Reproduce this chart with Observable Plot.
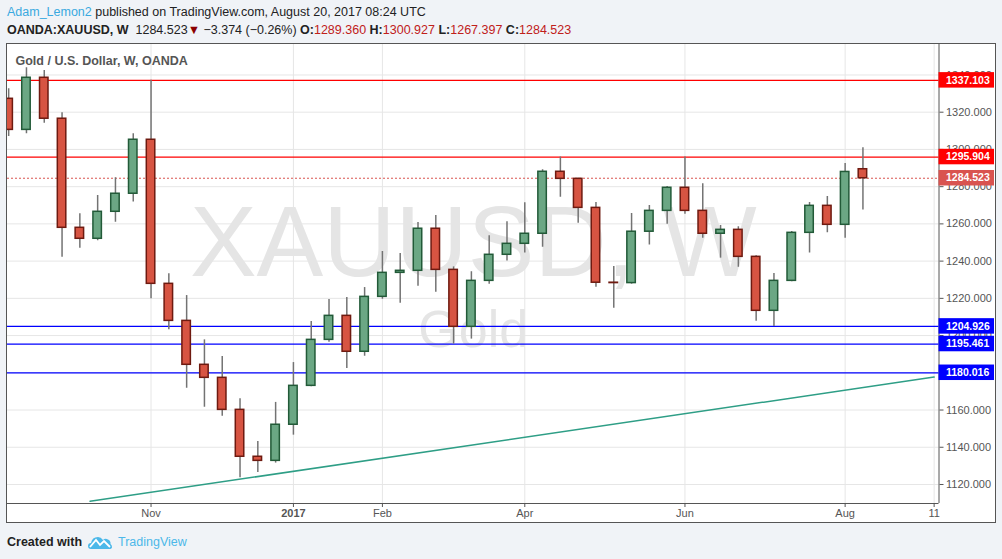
<!DOCTYPE html>
<html><head><meta charset="utf-8">
<script src="https://cdn.jsdelivr.net/npm/d3@7"></script>
<script src="https://cdn.jsdelivr.net/npm/@observablehq/plot@0.6"></script>
<style>
html,body{margin:0;padding:0;background:#f0f3f7;}
#page{position:relative;width:1002px;height:559px;overflow:hidden;font-family:"Liberation Sans",Arial,sans-serif;background:#f0f3f7;}
.hdr{position:absolute;left:7px;font-size:12.5px;line-height:16px;color:#222;white-space:nowrap;}
.r{color:#c0201a;}
#frame{position:absolute;left:6px;top:43px;width:990px;height:480px;box-sizing:border-box;border:1px solid #555;background:#fff;}
#frame svg{display:block;}
#footer{position:absolute;left:7px;top:534px;height:16px;font-size:12.5px;line-height:16px;white-space:nowrap;}
</style>
</head><body>
<div id="page">
  <div class="hdr" style="top:4px"><span style="color:#3aa9e0">Adam_Lemon2</span> published on TradingView.com, August 20, 2017 08:24 UTC</div>
  <div class="hdr" style="top:22px"><b>OANDA:XAUUSD, W</b>&nbsp; 1284.523<span style="color:#8b0000">▼</span> −3.374 (−0.26%) <b>O:</b><span class="r">1289.360</span> <b>H:</b><span class="r">1300.927</span> <b>L:</b><span class="r">1267.397</span> <b>C:</b><span class="r">1284.523</span></div>
  <div id="frame"></div>
  <div id="footer"><b style="color:#222">Created with</b>
    <svg width="24" height="16" viewBox="0 0 24 16" style="position:absolute;left:81px;top:0px">
      <path d="M3 15 Q0 15 0 12 Q0 9 3 9 Q4 3 10 3 Q13 3 15 6 Q17 4 20 5.5 Q23 7 22.5 10 Q24 11 24 13 Q24 15 21 15 Z" fill="#4cb8e9"/>
      <polyline points="2,13 8,6 12,11 16,7 22,13" fill="none" stroke="#fff" stroke-width="1.8"/>
    </svg>
    <span style="position:absolute;left:111px;color:#4cb8e9">TradingView</span>
  </div>
</div>
<script>
// ---- data ----
const dates = ["2016-09-12","2016-09-19","2016-09-26","2016-10-03","2016-10-10","2016-10-17","2016-10-24","2016-10-31",
  "2016-11-07","2016-11-14","2016-11-21","2016-11-28","2016-12-05","2016-12-12","2016-12-19","2016-12-26",
  "2017-01-02","2017-01-09","2017-01-16","2017-01-23","2017-01-30","2017-02-06","2017-02-13","2017-02-20",
  "2017-02-27","2017-03-06","2017-03-13","2017-03-20","2017-03-27","2017-04-03","2017-04-10","2017-04-17",
  "2017-04-24","2017-05-01","2017-05-08","2017-05-15","2017-05-22","2017-05-29","2017-06-05","2017-06-12",
  "2017-06-19","2017-06-26","2017-07-03","2017-07-10","2017-07-17","2017-07-24","2017-07-31","2017-08-07","2017-08-14"];
const opens = [1327.2,1310.5,1338.5,1316.5,1257.9,1252.0,1266.5,1276.2,
  1305.2,1227.8,1207.9,1184.3,1177.3,1160.1,1134.9,1132.7,
  1152.1,1173.0,1197.7,1210.6,1191.3,1220.8,1233.7,1234.8,
  1257.4,1235.3,1204.7,1229.4,1243.4,1249.3,1254.7,1288.0,
  1284.2,1268.6,1228.4,1228.2,1255.8,1267.0,1279.4,1267.0,
  1254.7,1256.8,1242.3,1213.3,1229.4,1255.2,1269.7,1259.5,1289.360];
const highs = [1332.6,1343.9,1342.4,1319.7,1265.4,1275.3,1284.8,1308.4,
  1337.1,1233.2,1221.5,1197.7,1188.8,1166.0,1143.1,1164.1,
  1185.5,1207.6,1219.4,1220.5,1225.8,1245.2,1244.1,1260.7,
  1264.5,1236.9,1234.3,1253.6,1261.1,1271.3,1289.1,1295.9,
  1284.5,1271.5,1237.1,1265.6,1269.9,1280.1,1296.0,1281.5,
  1259.1,1258.4,1242.9,1233.3,1255.9,1271.5,1274.7,1292.4,1300.927];
const lows = [1306.9,1308.4,1314.1,1242.1,1246.9,1250.9,1260.9,1271.7,
  1219.8,1203.1,1171.7,1161.5,1156.7,1123.6,1126.4,1131.5,
  1146.5,1172.5,1196.4,1182.3,1188.9,1219.5,1217.4,1226.5,
  1223.3,1195.4,1198.1,1227.6,1240.0,1244.3,1247.5,1274.3,
  1260.4,1226.0,1214.7,1227.6,1248.6,1259.8,1265.2,1252.3,
  1241.6,1236.7,1207.7,1204.9,1228.9,1244.3,1255.2,1252.3,1267.397];
const closes = [1310.5,1338.5,1316.5,1257.9,1252.0,1266.5,1276.2,1305.2,
  1227.8,1207.9,1184.3,1177.3,1160.1,1134.9,1132.7,1152.1,
  1173.0,1197.7,1210.6,1191.3,1220.8,1233.7,1234.8,1257.4,
  1235.3,1204.7,1229.4,1243.4,1249.3,1254.7,1288.0,1284.2,
  1268.6,1228.4,1228.2,1255.8,1267.0,1279.4,1267.0,1254.7,
  1256.8,1242.3,1213.3,1229.4,1255.2,1269.7,1259.5,1287.9,1284.523];
const yTicks = [1120,1140,1160,1180,1200,1220,1240,1260,1280,1300,1320,1340];
const xTickDates = ["2016-11-07","2017-01-02","2017-02-06","2017-04-03","2017-06-05","2017-08-07","2017-09-11"];
const xTickLabels = ["Nov","2017","Feb","Apr","Jun","Aug","11"];
const levelValues = [1337.103,1295.904,1204.926,1195.461,1180.016];
const levelColors = ["#ff0000","#ff0000","#0000ff","#0000ff","#0000ff"];
const lastPrice = 1284.523;
const trendDates = ["2016-10-14","2017-09-11"];
const trendValues = [1111.0,1177.7];
const watermark = "XAUUSD, W";
const watermarkSub = "Gold";
const legendTitle = "Gold / U.S. Dollar, W, OANDA";

// ---- build ----
const candles = dates.map((d,i)=>({date:new Date(d),open:opens[i],high:highs[i],low:lows[i],close:closes[i]}));
const xTicks = xTickDates.map(d=>new Date(d));
const levels = levelValues.map((v,i)=>({value:v,color:levelColors[i]}));
const trend = trendDates.map((d,i)=>({date:new Date(d),value:trendValues[i]}));
const half = 40*3600*1000;
const xDomain = [new Date(Date.UTC(2016,8,11,13)), new Date(Date.UTC(2017,8,12,22))];
const yDomain = [1109.79,1356.37];
const GREEN="#6ba784", GREEN_S="#225a38", RED="#d75442", RED_S="#6e1a10";

const plot = Plot.plot({
  width:988, height:478,
  marginLeft:0, marginRight:56.5, marginTop:0, marginBottom:19,
  x:{type:"utc", domain:xDomain},
  y:{domain:yDomain},
  color:{type:"identity"},
  style:{fontFamily:"'Liberation Sans',Arial,sans-serif", background:"#fff", overflow:"visible"},
  marks:[
    Plot.ruleY(yTicks,{stroke:"#e6e6e6"}),
    Plot.ruleX(xTicks,{stroke:"#e6e6e6"}),
    Plot.text([watermark],{text:d=>d, frameAnchor:"middle", lineAnchor:"middle", fontSize:100, fill:"#e5e5e5", dy:-30.5}),
    Plot.text([watermarkSub],{text:d=>d, frameAnchor:"middle", lineAnchor:"middle", fontSize:52, fill:"#e5e5e5", dy:56.6}),
    Plot.line(trend,{x:"date", y:"value", stroke:"#2e9e86", strokeWidth:1.5, clip:true}),
    Plot.ruleY(levels,{y:"value", stroke:"color", strokeWidth:1.2}),
    Plot.ruleY([lastPrice],{stroke:"#d9534f", strokeDasharray:"2,2"}),
    Plot.ruleX(candles,{x:"date", y1:"low", y2:"high", stroke:"#737373", strokeWidth:1.5, clip:true}),
    Plot.rect(candles,{x1:d=>new Date(+d.date-half), x2:d=>new Date(+d.date+half), y1:"open", y2:"close",
      fill:d=>d.close>=d.open?GREEN:RED, stroke:d=>d.close>=d.open?GREEN_S:RED_S, strokeWidth:1.5, clip:true}),
    Plot.text([legendTitle],{text:d=>d, frameAnchor:"top-left", lineAnchor:"middle", dx:8, dy:16.5, fontSize:12.5, fontWeight:"bold", fill:"#555"}),
    Plot.ruleX([xDomain[1]],{stroke:"#555"}),
    Plot.ruleY([yDomain[0]],{stroke:"#555"}),
    Plot.axisY({anchor:"right", ticks:yTicks, tickFormat:d=>d.toFixed(3), tickSize:4, tickPadding:3, fontSize:11, color:"#555", label:null}),
    Plot.axisX({ticks:xTicks, tickFormat:d=>xTickLabels[xTicks.findIndex(t=>+t===+d)], tickSize:4, tickPadding:2, fontSize:11, color:"#555", label:null})
  ]
});
document.getElementById("frame").appendChild(plot);

// price tags on the right scale, placed with the plot's own scales
const ys = plot.scale("y");
const xr = plot.scale("x").range;
const svg = d3.select(plot);
svg.selectAll('g[aria-label="x-axis tick label"] text').filter(function(){return this.textContent==="2017";}).attr("font-weight","bold");
const tags = levels.map(l=>({v:l.value,c:l.color})).concat([{v:lastPrice,c:"#d9534f"}]);
const g = svg.append("g").attr("text-anchor","start");
tags.forEach(t=>{
  const y = ys.apply(t.v);
  g.append("rect").attr("x",xr[1]).attr("y",y-7.75).attr("width",55.5).attr("height",15.5).attr("fill",t.c);
  g.append("text").attr("x",xr[1]+7.5).attr("y",y).attr("dy","0.35em").attr("fill","#fff").attr("text-anchor","start")
    .attr("font-weight","bold").attr("font-size",10.5).text(t.v.toFixed(3));
});
</script>
</body></html>
